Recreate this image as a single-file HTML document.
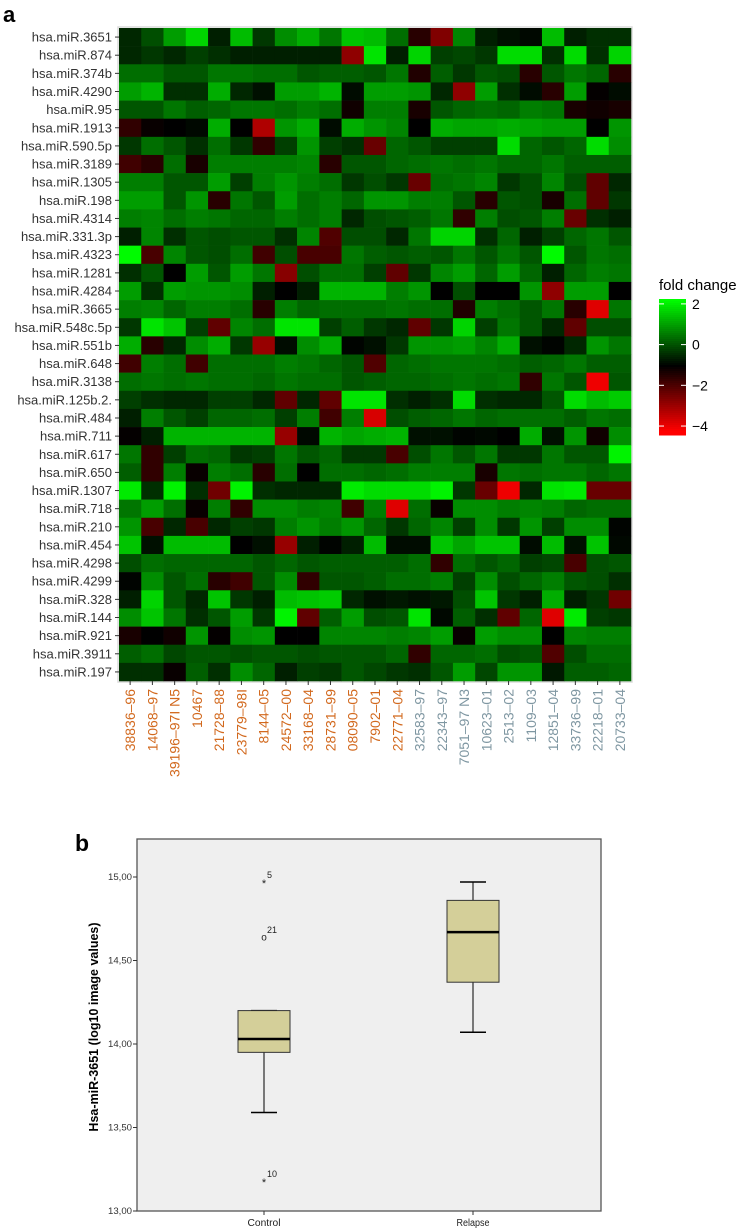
<!DOCTYPE html>
<html><head><meta charset="utf-8">
<style>
html,body{margin:0;padding:0;background:#fff;}
svg{display:block;font-family:"Liberation Sans",Arial,sans-serif;}
</style></head>
<body>
<svg id="fig" width="750" height="1231" viewBox="0 0 750 1231">
<text x="3" y="22" font-size="22" font-weight="bold" fill="#000">a</text>
<g id="heat"></g>
<g id="legend"></g>
<text x="75" y="851" font-size="23" font-weight="bold" fill="#000">b</text>
<g id="box"></g>
</svg>
<script>
const rowLabels = ["hsa.miR.3651","hsa.miR.874","hsa.miR.374b","hsa.miR.4290","hsa.miR.95","hsa.miR.1913","hsa.miR.590.5p","hsa.miR.3189","hsa.miR.1305","hsa.miR.198","hsa.miR.4314","hsa.miR.331.3p","hsa.miR.4323","hsa.miR.1281","hsa.miR.4284","hsa.miR.3665","hsa.miR.548c.5p","hsa.miR.551b","hsa.miR.648","hsa.miR.3138","hsa.miR.125b.2.","hsa.miR.484","hsa.miR.711","hsa.miR.617","hsa.miR.650","hsa.miR.1307","hsa.miR.718","hsa.miR.210","hsa.miR.454","hsa.miR.4298","hsa.miR.4299","hsa.miR.328","hsa.miR.144","hsa.miR.921","hsa.miR.3911","hsa.miR.197"];
const colLabels = ["38836\u201396","14068\u201397","39196\u201397I N5","10467","21728\u201388","23779\u201398I","8144\u201305","24572\u201300","33168\u201304","28731\u201399","08090\u201305","7902\u201301","22771\u201304","32583\u201397","22343\u201397","7051\u201397 N3","10623\u201301","2513\u201302","1109\u201303","12851\u201304","33736\u201399","22218\u201301","20733\u201304"];
const colGroups = ["c","c","c","c","c","c","c","c","c","c","c","c","c","r","r","r","r","r","r","r","r","r","r"];
const foldChange = [
[-0.5,0,1,1.7,-0.6,1.4,-0.3,0.8,1.2,0.5,1.5,1.4,0.4,-1.5,-2.6,0.7,-0.6,-0.8,-0.9,1.4,-0.6,-0.4,-0.4],
[-0.5,-0.3,-0.5,-0.2,-0.4,-0.6,-0.6,-0.6,-0.6,-0.6,-2.8,1.9,-0.6,1.7,-0.2,-0.1,-0.3,1.8,1.8,-0.4,1.8,-0.4,1.7],
[0.4,0.4,0.1,0.1,0.5,0.5,0.4,0.4,0.1,0.2,0.2,0.1,0.5,-1.4,0.2,-0.3,0.1,0,-1.5,0.1,0.5,0.3,-1.5],
[1.0,1.3,-0.4,-0.4,1.2,-0.5,-0.8,1.0,1.0,1.3,-0.85,1.0,1.0,0.9,-0.5,-2.8,1.0,-0.4,-0.85,-1.5,1.0,-1.05,-0.85],
[0.1,0.1,0.5,0.2,0.3,0.5,0.5,0.4,0.6,0.4,-1.2,0.6,0.6,-1.3,0.1,0.3,0.4,0.3,0.6,0.5,-1.3,-1.2,-1.3],
[-1.6,-1.1,-1,-0.9,1.2,-1,-3.2,0.9,1.2,-0.85,1.2,0.9,0.7,-1,1.2,1.1,1.1,1.2,1.1,1.0,1.0,-1,0.9],
[-0.3,0.4,0.1,-0.4,0.4,-0.3,-1.6,-0.2,0.9,-0.2,-0.4,-2.3,0.3,0.1,-0.2,-0.2,-0.2,1.8,0.3,0.1,0.3,1.8,0.8],
[-1.8,-1.5,0.4,-1.3,0.6,0.6,0.6,0.6,0.7,-1.5,0.1,0.1,0.3,0.4,0.5,0.4,0.5,0.3,0.3,0.5,0.2,0.2,0.2],
[0.6,0.6,0.1,0.1,1.0,-0.2,0.6,0.9,0.6,0.4,-0.3,0,-0.3,-2.3,0.4,0.5,0.7,-0.3,0,0.7,0,-2.2,-0.5],
[1.0,1.0,0.1,0.9,-1.5,0.5,0.1,1.0,0.4,0.6,0.3,0.9,0.9,0.6,0.6,0.1,-1.5,0.1,0,-1.3,0.4,-2.2,-0.3],
[0.6,0.7,0.4,0.6,0.5,0.3,0.3,0.6,0.4,0.6,-0.5,0,0.1,0.2,0.5,-1.6,0.6,0,0.1,0.6,-2.3,-0.4,-0.6],
[-0.6,0.7,-0.4,0.1,0,0.1,0.1,-0.4,0.7,-2.0,0,0,-0.5,0.5,1.7,1.7,-0.4,0.3,-0.6,-0.2,0.3,0.5,0.1],
[2.2,-1.9,0.7,0.1,0,0.4,-1.8,0,-1.9,-1.9,0.5,0.2,0.1,0.2,0.1,0.5,0.1,0.5,0.1,2.2,0.1,0.5,0.4],
[-0.4,0.1,-1,1.0,0.1,1.0,0.5,-2.7,0,0.4,0.4,-0.2,-2.2,-0.3,0.7,1.0,0.3,1.0,0.3,-0.6,0.3,0.6,0.5],
[1.0,-0.4,1.0,0.9,0.9,0.8,-0.6,-1,-0.6,1.3,1.3,1.3,0.6,0.9,-1,0,-1,-1,0.9,-2.8,1.0,1.0,-1],
[0.6,0.7,0.3,0.6,0.6,0.4,-1.5,0.6,0.3,0.4,0.4,0.4,0.5,0.4,0.4,-1.4,0.6,0.4,0.1,0.5,-1.5,-3.8,0.5],
[-0.3,1.9,1.5,-0.2,-2.2,0.7,0.4,1.9,1.9,-0.2,0.2,-0.3,-0.5,-2.2,-0.3,1.7,-0.2,0.5,0.1,-0.5,-2.2,0,0],
[1.2,-1.5,-0.5,0.8,1.2,-0.3,-2.9,-0.85,0.8,1.2,-0.95,-0.8,-0.3,0.9,0.9,1.0,0.7,1.2,-0.8,-0.95,-0.5,0.9,0.5],
[-1.8,0.6,0.4,-1.8,0.4,0.4,0.4,0.6,0.5,0.3,0.1,-2.0,0.3,0.4,0.5,0.5,0.5,0.4,0.2,0.3,0.5,0.2,0.2],
[0.4,0.5,0.4,0.5,0.4,0.4,0.3,0.5,0.4,0.4,0.1,0.2,0.3,0.3,0.4,0.5,0.4,0.5,-1.6,0.5,0.1,-4.0,0.1],
[-0.2,-0.4,-0.5,-0.5,-0.2,-0.2,-0.5,-2.2,-0.5,-2.2,1.9,1.9,-0.4,-0.6,-0.4,1.8,-0.4,-0.5,-0.5,0.1,1.8,1.4,1.6],
[-0.6,0.6,0.1,-0.2,0.3,0.3,0.4,-0.2,0.6,-1.8,0.6,-3.7,0,0.2,0.3,0.5,0.3,0.4,0.4,0.4,0.2,0.5,0.4],
[-1.05,-0.6,1.3,1.3,1.3,1.3,1.3,-2.9,-0.9,1.3,1.1,1.2,1.3,-0.8,-0.8,-0.95,-0.9,-1,1.2,-0.8,0.9,-1.2,0.8],
[0.5,-1.6,-0.2,0.4,0.3,-0.3,-0.2,0.5,0.1,0.3,-0.3,-0.3,-1.9,0,0.5,0.1,0.5,-0.3,-0.3,0.5,0.1,0.1,2.1],
[0.2,-1.6,0.6,-1.1,0.6,0.4,-1.5,0.4,-1,0.4,0.4,0.3,0.4,0.6,0.6,0.6,-1.3,0.5,0.4,0.5,0.5,0.3,0.5],
[2.0,-0.4,2.1,-0.4,-2.4,2.1,-0.4,-0.5,-0.5,-0.5,2.0,1.8,1.8,1.8,2.1,-0.3,-2.3,-4,-0.5,1.9,2.0,-2.3,-2.3],
[0.5,1.0,0.4,-1.1,0.6,-1.6,0.8,0.8,0.6,0.7,-1.8,0.6,-3.8,0.4,-1.1,0.8,0.8,0.6,0.7,0.6,0.3,0.4,0.4],
[0.9,-1.9,-0.5,-1.9,-0.5,-0.2,-0.3,0.6,0.9,0.6,0.9,0.3,-0.3,0.3,0.7,-0.2,0.8,-0.3,0.9,-0.2,0.8,0.8,-0.95],
[1.5,-0.8,1.4,1.4,1.4,-1,-0.8,-2.9,-0.6,-0.95,-0.6,1.4,-0.85,-0.85,1.5,1.1,1.5,1.5,-0.85,1.4,-0.8,1.5,-0.9],
[0,0.4,0.3,0.3,0.3,0.3,0.1,0.3,0.1,0.2,0.2,0.2,0.2,0.4,-1.6,0.4,0.1,0.3,-0.2,-0.1,-1.9,0,0.1],
[-0.95,0.8,0.1,0.4,-1.5,-1.8,0.1,0.8,-1.6,0.1,0.1,0.2,0.4,0.4,0.6,-0.2,0.8,0,0.3,0.6,0.1,0,-0.4],
[-0.6,1.7,0.1,-0.5,1.5,-0.3,-0.6,1.4,1.5,1.6,-0.5,-0.8,-0.7,-0.8,-0.7,0,1.5,-0.3,-0.6,1.2,-0.6,-0.3,-2.4],
[0.8,1.5,0.5,-0.4,0.1,1.0,-0.3,2.1,-2.2,0.2,1.0,0,0.1,1.9,-0.9,0.2,-0.4,-2.2,0.3,-3.8,2.0,-0.2,-0.3],
[-1.3,-1,-1.2,0.9,-1.05,0.8,0.9,-1,-1,0.7,0.7,0.7,0.6,0.7,1.0,-1.1,1.0,0.8,0.8,-1,0.7,0.6,0.6],
[0.2,0.4,-0.1,0.1,0.1,0,0.1,0.1,0,0.1,0.1,0.1,0.3,-1.6,0.3,0.3,0.4,0,0.1,-2.0,0,0.4,0.4],
[-0.4,-0.4,-1.1,0.2,-0.4,0.8,0.3,-0.6,-0.2,-0.3,0.1,-0.1,-0.3,-0.4,0.1,1.0,-0.1,0.9,0.9,-0.7,0.2,0.2,0.3]
];
const legendTicks = [2,0,-2,-4];

const boxGroups = ["Control","Relapse"];
const boxQ1 = [13.95,14.37];
const boxMedian = [14.03,14.67];
const boxQ3 = [14.20,14.86];
const whiskerLow = [13.59,14.07];
const whiskerHigh = [14.20,14.97];
const outlierGroup = [0,0,0];
const outlierValue = [14.97,14.64,13.18];
const outlierLabel = ["5","21","10"];
const outlierShape = ["star","circle","star"];
const yTicks = [13.0,13.5,14.0,14.5,15.0];

const NS="http://www.w3.org/2000/svg";
function mk(tag,attrs,parent){const e=document.createElementNS(NS,tag);for(const k in attrs)e.setAttribute(k,attrs[k]);parent.appendChild(e);return e;}

const hx0=119,hx1=631,hy0=28,hy1=681;
const cw=(hx1-hx0)/colLabels.length, rh=(hy1-hy0)/rowLabels.length;
const xCell=j=>hx0+j*cw, yCell=i=>hy0+i*rh;
function fcColor(v){
  if(v>=-1){const g=Math.round(Math.min(255,255*(v+1)/3.25));return `rgb(0,${g},0)`;}
  const r=Math.round(Math.min(255,255*(-1-v)/3.2));return `rgb(${r},0,0)`;
}
const heat=document.getElementById('heat');
mk('rect',{x:hx0-1,y:hy0-1,width:hx1-hx0+2,height:hy1-hy0+2,fill:'none',stroke:'#dcdcdc','stroke-width':1.5},heat);
foldChange.forEach((row,i)=>row.forEach((v,j)=>{
  const r=mk('rect',{x:xCell(j).toFixed(2),y:yCell(i).toFixed(2),width:(cw+0.3).toFixed(2),height:(rh+0.3).toFixed(2),fill:fcColor(v)},heat);
  
  
}));
rowLabels.forEach((lab,i)=>{
  const y=yCell(i)+rh/2;
  const t=mk('text',{x:112,y:(y+4.5).toFixed(1),'text-anchor':'end','font-size':13,fill:'#333'},heat);
  t.textContent=lab;
  
  
  const tk=mk('line',{x1:115,x2:119,y1:y,y2:y,stroke:'#333','stroke-width':1},heat);
  
  
});
colLabels.forEach((lab,j)=>{
  const x=xCell(j)+cw/2;
  const tk=mk('line',{x1:x,x2:x,y1:hy1,y2:hy1+4,stroke:'#333','stroke-width':1},heat);
  
  
  const t=mk('text',{x:0,y:0,'text-anchor':'end','font-size':14,fill:colGroups[j]==='c'?'#d2691e':'#7f97a2',transform:`translate(${(x+5).toFixed(1)},${hy1+8}) rotate(-90)`},heat);
  t.textContent=lab;
  
  
});

const lg=document.getElementById('legend');
const lTop=299,lBot=435,lMax=2.24,lMin=-4.44;
const ly=v=>lTop+(lMax-v)/(lMax-lMin)*(lBot-lTop);
const lt=mk('text',{x:659,y:290,'font-size':15,fill:'#000'},lg);lt.textContent='fold change';


for(let k=0;k<68;k++){
  const y=lTop+k*(lBot-lTop)/68; const v=lMax-(y-lTop)/(lBot-lTop)*(lMax-lMin);
  const s=mk('rect',{x:659,y:y.toFixed(2),width:27,height:((lBot-lTop)/68+0.5).toFixed(2),fill:fcColor(v)},lg);
  
  
}
legendTicks.forEach(v=>{
  const y=ly(v);
  mk('line',{x1:659,x2:664,y1:y,y2:y,stroke:'#fff','stroke-width':1},lg);
  mk('line',{x1:681,x2:686,y1:y,y2:y,stroke:'#fff','stroke-width':1},lg);
  const t=mk('text',{x:692,y:(y+5).toFixed(1),'font-size':14,fill:'#000'},lg);
  t.textContent=v<0?'\u2212'+(-v):String(v);
  
  
});

const bx=document.getElementById('box');
const bL=137,bR=601,bT=839,bB=1211;
const yv=v=>bB-(v-13)/(15-13)*(bB-877);
const xg=[264,473];
const frame=mk('rect',{x:bL,y:bT,width:bR-bL,height:bB-bT,fill:'#efefef',stroke:'#555','stroke-width':1.3},bx);


yTicks.forEach(v=>{
  const y=yv(v);
  mk('line',{x1:133,x2:bL,y1:y,y2:y,stroke:'#333'},bx);
  const t=mk('text',{x:132,y:(y+3).toFixed(1),'text-anchor':'end','font-size':9,fill:'#333',textLength:24,lengthAdjust:'spacingAndGlyphs'},bx);
  t.textContent=v.toFixed(2).replace('.',',');
  
  
});
const yt=mk('text',{x:0,y:0,'text-anchor':'middle','font-size':12.5,'font-weight':'bold',fill:'#000',transform:`translate(98,1027) rotate(-90)`},bx);
yt.textContent='Hsa-miR-3651 (log10 image values)';


boxGroups.forEach((g,i)=>{
  const x=xg[i];
  mk('line',{x1:x,x2:x,y1:yv(whiskerLow[i]),y2:yv(boxQ1[i]),stroke:'#000'},bx);
  mk('line',{x1:x,x2:x,y1:yv(boxQ3[i]),y2:yv(whiskerHigh[i]),stroke:'#000'},bx);
  mk('line',{x1:x-13,x2:x+13,y1:yv(whiskerLow[i]),y2:yv(whiskerLow[i]),stroke:'#000','stroke-width':1.5},bx);
  mk('line',{x1:x-13,x2:x+13,y1:yv(whiskerHigh[i]),y2:yv(whiskerHigh[i]),stroke:'#000','stroke-width':1.5},bx);
  const r=mk('rect',{x:x-26,y:yv(boxQ3[i]),width:52,height:yv(boxQ1[i])-yv(boxQ3[i]),fill:'#d4cf99',stroke:'#333','stroke-width':1},bx);
  
  
  mk('line',{x1:x-26,x2:x+26,y1:yv(boxMedian[i]),y2:yv(boxMedian[i]),stroke:'#000','stroke-width':2.5},bx);
  mk('line',{x1:x,x2:x,y1:bB,y2:bB+4,stroke:'#333'},bx);
  const t=mk('text',{x:x,y:1226,'text-anchor':'middle','font-size':10,fill:'#222',textLength:33,lengthAdjust:'spacingAndGlyphs'},bx);
  t.textContent=g;
  
  
});
outlierValue.forEach((v,k)=>{
  const x=xg[outlierGroup[k]], y=yv(v);
  const m=mk('text',{x:x,y:(outlierShape[k]==='star'?y+5:y+3.5).toFixed(1),'text-anchor':'middle','font-size':outlierShape[k]==='star'?11:10,fill:'#222'},bx);
  m.textContent=outlierShape[k]==='star'?'*':'o';
  
  
  const l=mk('text',{x:x+3,y:(y-4).toFixed(1),'font-size':9,fill:'#222'},bx);
  l.textContent=outlierLabel[k];
  
  
});
</script>
</body></html>
